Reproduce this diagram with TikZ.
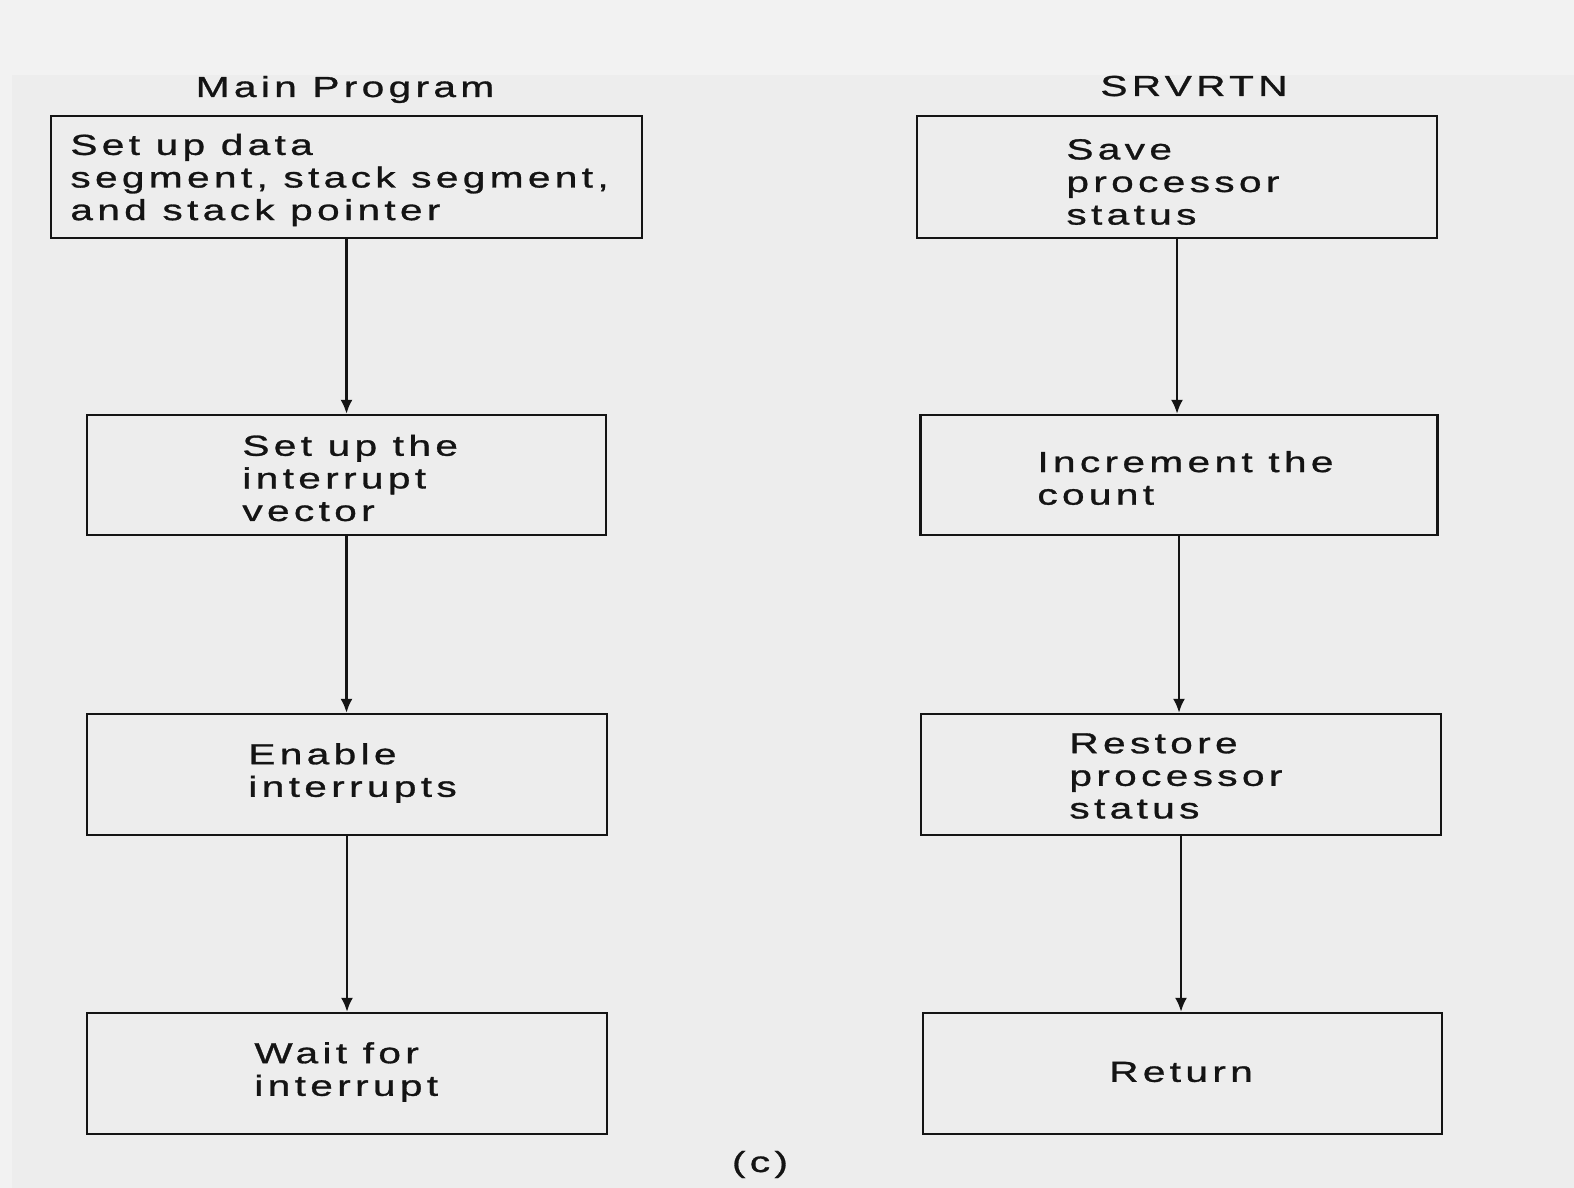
\documentclass[tikz,border=0pt]{standalone}
\usepackage{fontspec}
\setmainfont{Liberation Sans}[FakeStretch=1.4,LetterSpace=15,FakeBold=1]
\usetikzlibrary{arrows.meta}
\definecolor{scanbg}{RGB}{237,237,237}
\definecolor{scantop}{RGB}{242,242,242}
\definecolor{ink}{RGB}{20,20,20}
\begin{document}
\begin{tikzpicture}[x=0.5pt,y=-0.5pt,
  box/.style={draw=ink,line width=1.1pt,inner sep=0pt},
  txt/.style={font=\fontsize{14.5}{16.3}\selectfont,text=ink,align=left,inner sep=0pt},
  arr/.style={draw=ink,line width=1.3pt,-{Latex[length=7pt,width=6pt]}}]
\useasboundingbox (0,0) rectangle (1574,1188);
\fill[scanbg] (0,0) rectangle (1574,1188);
\fill[scantop] (0,0) rectangle (1574,75);
\fill[scantop] (0,75) rectangle (12,1188);
% boxes
\node[box,minimum width=295.5pt,minimum height=61pt] (L1) at (346.5,177) {};
\node[box,minimum width=259.5pt,minimum height=60pt] (L2) at (346.5,475) {};
\node[box,minimum width=260pt,minimum height=60.5pt] (L3) at (347,774.5) {};
\node[box,minimum width=260pt,minimum height=60.5pt] (L4) at (347,1073.5) {};
\node[box,minimum width=260pt,minimum height=61pt] (R1) at (1177,177) {};
\node[box,minimum width=258.5pt,minimum height=60pt] (R2) at (1179,475) {};
\node[box,minimum width=260pt,minimum height=60.5pt] (R3) at (1181,774.5) {};
\node[box,minimum width=259.5pt,minimum height=60.5pt] (R4) at (1182.5,1073.5) {};
% titles
\node[txt,anchor=base] (h1) at (345,97) {Main Program};
\node[txt,anchor=base] (h2) at (1194,96) {SRVRTN};
\node[txt,anchor=base] (cap) at (760,1172) {(c)};
% texts
\node[txt,anchor=west] (t1) at (70,180) {Set up data\\segment, stack segment,\\and stack pointer};
\node[txt,anchor=west] (t2) at (242,478) {Set up the\\interrupt\\vector};
\node[txt,anchor=west] (t3) at (248,773) {Enable\\interrupts};
\node[txt,anchor=west] (t4) at (254,1072) {Wait for\\interrupt};
\node[txt,anchor=west] (t5) at (1066,182) {Save\\processor\\status};
\node[txt,anchor=west] (t6) at (1037,478) {Increment the\\count};
\node[txt,anchor=west] (t7) at (1069,776) {Restore\\processor\\status};
\node[txt] (t8) at (1181,1072) {Return};
% arrows
\draw[arr] (L1.south) -- (L1.south |- L2.north);
\draw[arr] (L2.south) -- (L2.south |- L3.north);
\draw[arr] (L3.south) -- (L3.south |- L4.north);
\draw[arr] (R1.south) -- (R1.south |- R2.north);
\draw[arr] (R2.south) -- (R2.south |- R3.north);
\draw[arr] (R3.south) -- (R3.south |- R4.north);
\end{tikzpicture}
\end{document}
